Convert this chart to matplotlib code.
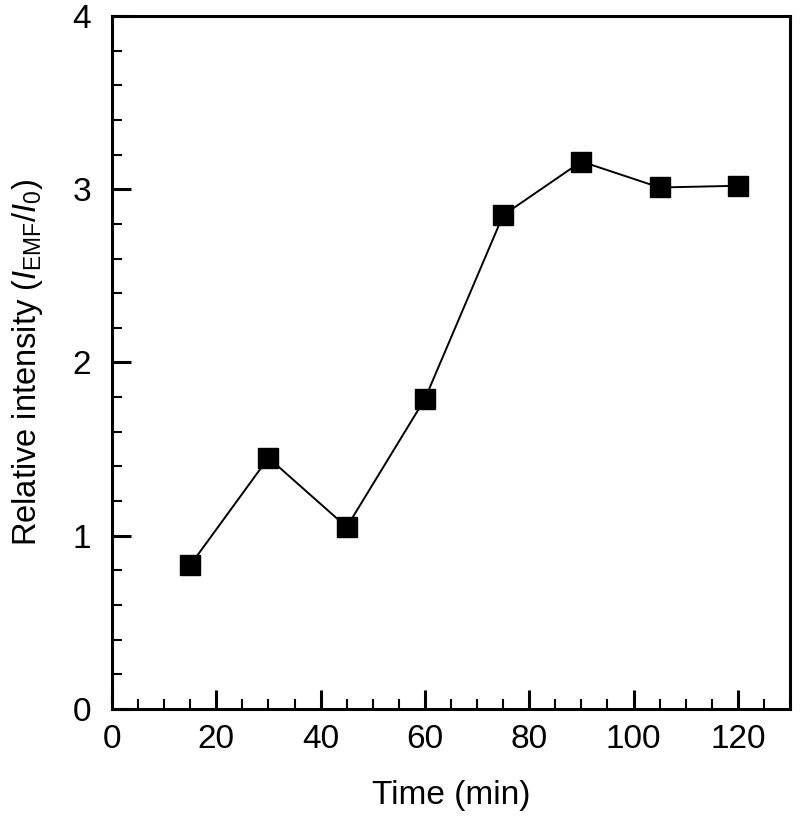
import matplotlib
matplotlib.use("Agg")
import matplotlib.pyplot as plt
from matplotlib.ticker import MultipleLocator

time_min = [15, 30, 45, 60, 75, 90, 105, 120]
rel_intensity = [0.83, 1.45, 1.05, 1.79, 2.85, 3.16, 3.01, 3.02]
x_ticks = [0, 20, 40, 60, 80, 100, 120]
y_ticks = [0, 1, 2, 3, 4]

plt.rcParams['font.family'] = ['Liberation Sans', 'DejaVu Sans']
plt.rcParams['mathtext.fontset'] = 'custom'
plt.rcParams['mathtext.rm'] = 'Liberation Sans'
plt.rcParams['mathtext.it'] = 'Liberation Sans:italic'

fig = plt.figure(figsize=(8, 8.19), dpi=100)
ax = fig.add_axes([0.14, 0.1343, 0.8475, 0.8462])
ax.plot(time_min, rel_intensity, color='black', linewidth=1.4, marker='s',
        markersize=14.5, markerfacecolor='black', markeredgecolor='black')
ax.set_xlim(0, 130)
ax.set_ylim(0, 4)
ax.set_xticks(x_ticks)
ax.set_yticks(y_ticks)
ax.xaxis.set_minor_locator(MultipleLocator(5))
ax.yaxis.set_minor_locator(MultipleLocator(0.2))
ax.tick_params(which='major', direction='in', length=14, width=2.2, labelsize=24)
ax.tick_params(axis='x', which='major', pad=11)
ax.tick_params(axis='y', which='major', pad=15)
ax.tick_params(which='minor', direction='in', length=7, width=1.5)
for s in ax.spines.values():
    s.set_linewidth(2.2)
ax.set_xlabel('Time (min)', fontsize=24, labelpad=18)
ax.set_ylabel(r'Relative intensity ($I_{\mathrm{EMF}}$/$I_0$)', fontsize=23.5, labelpad=20)
fig.savefig('out.png', dpi=100)
